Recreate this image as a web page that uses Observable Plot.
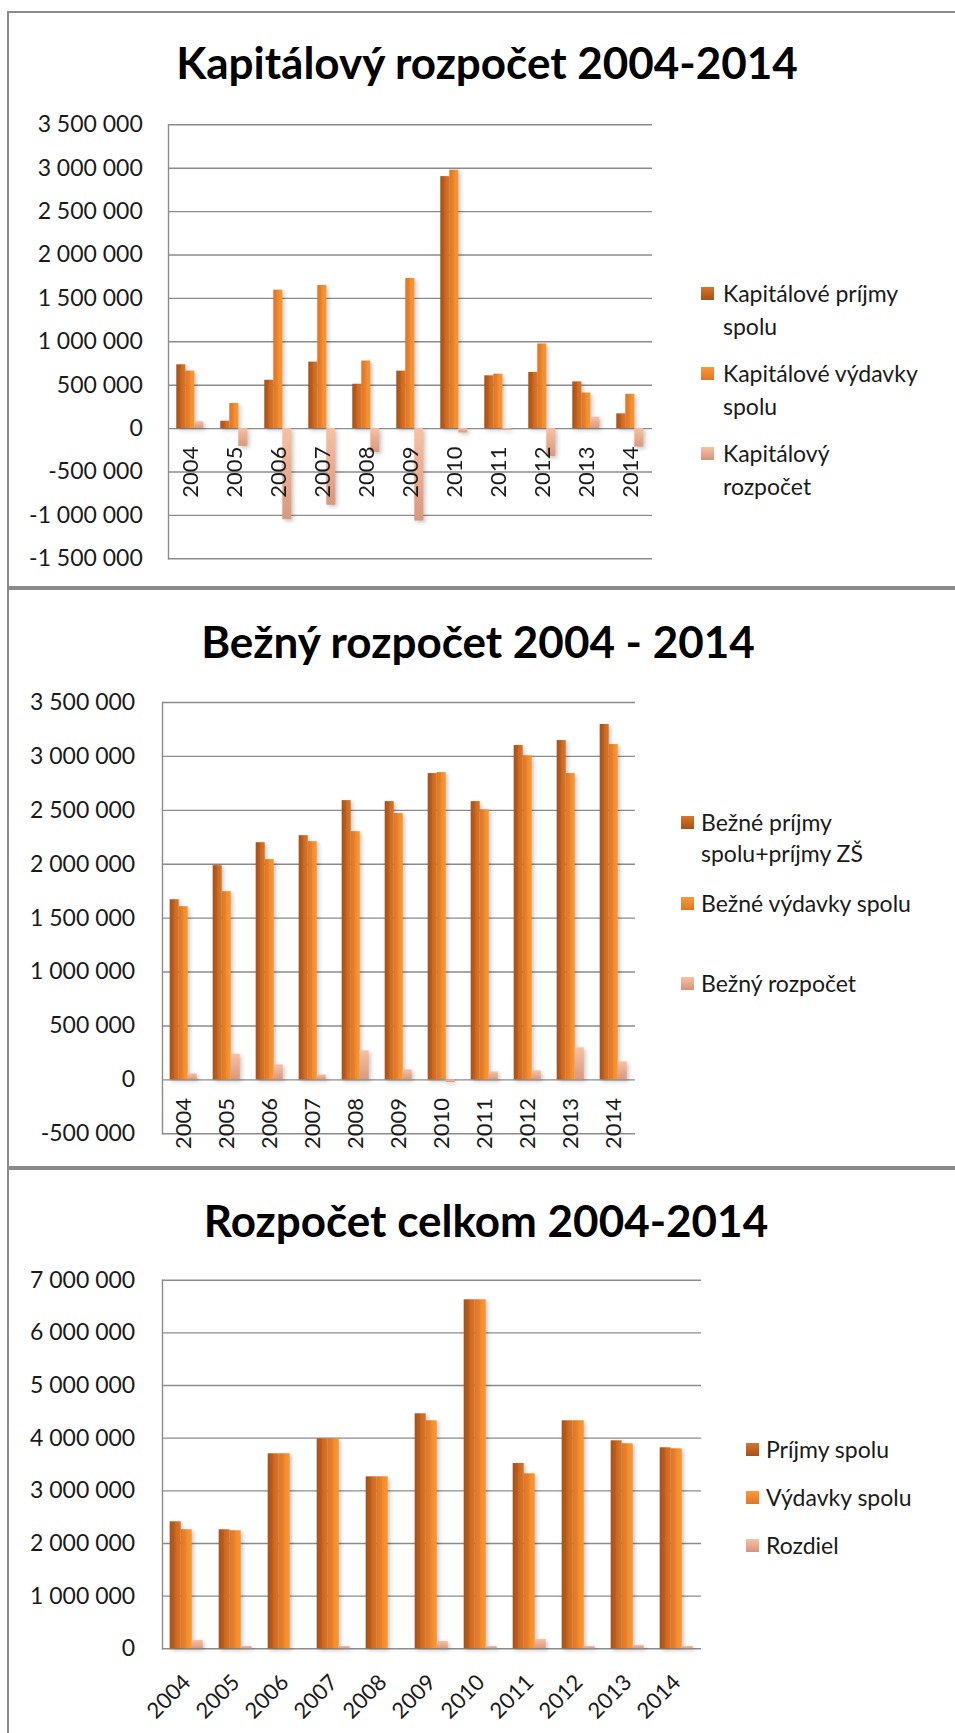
<!DOCTYPE html>
<html><head><meta charset="utf-8">
<script src="https://cdn.jsdelivr.net/npm/d3@7"></script>
<script src="https://cdn.jsdelivr.net/npm/@observablehq/plot@0.6"></script>
<style>
html,body{margin:0;padding:0;background:#fff;overflow:hidden;}
#page{position:relative;width:955px;height:1733px;overflow:hidden;font-family:Lato,"Open Sans",sans-serif;background:#fff;}
.panel{position:absolute;left:7px;width:1000px;border:2px solid #8a8a8a;box-sizing:border-box;pointer-events:none;z-index:5;}
.chart{position:absolute;left:0;z-index:1;}
.title{position:absolute;left:0;text-align:center;font-weight:700;font-size:44px;line-height:44px;color:#000;white-space:nowrap;z-index:2;}
.legend{position:absolute;font-size:23px;color:#1a1a1a;z-index:2;}
.item{position:relative;}
.sw{position:absolute;left:0;width:13px;height:13px;}
.lt{white-space:pre-line;}
</style></head><body>
<svg width="0" height="0" style="position:absolute">
<defs>
<linearGradient id="gDark" x1="0" y1="0" x2="1" y2="0">
<stop offset="0" stop-color="#A5521A"/><stop offset="0.45" stop-color="#BC5D1C"/><stop offset="0.55" stop-color="#CD6A20"/><stop offset="1" stop-color="#DA7424"/>
</linearGradient>
<linearGradient id="gMid" x1="0" y1="0" x2="1" y2="0">
<stop offset="0" stop-color="#DD7526"/><stop offset="0.45" stop-color="#EA8229"/><stop offset="0.55" stop-color="#F38D2C"/><stop offset="1" stop-color="#FA9631"/>
</linearGradient>
<linearGradient id="gLight" x1="0" y1="0" x2="0" y2="1">
<stop offset="0" stop-color="#F9C0A2"/><stop offset="1" stop-color="#D8997F"/>
</linearGradient>
</defs>
</svg>
<div id="page"></div>
<script>
// ---------- DATA ----------
const years = ["2004","2005","2006","2007","2008","2009","2010","2011","2012","2013","2014"];

// Chart 1: Kapitálový rozpočet
const kapTitle = "Kapitálový rozpočet 2004-2014";
const kapSeries = ["Kapitálové príjmy\nspolu", "Kapitálové výdavky\nspolu", "Kapitálový\nrozpočet"];
const kapPrijmy   = [735000, 85000, 557000, 766000, 511000, 662000, 2903000, 608000, 647000, 538000, 170000];
const kapVydavky  = [662000, 290000, 1595000, 1649000, 778000, 1730000, 2977000, 627000, 975000, 410000, 395000];
const kapRozpocet = [80000, -205000, -1049000, -883000, -275000, -1065000, -50000, -19000, -322000, 131000, -213000];
const kapTicks = [-1500000, -1000000, -500000, 0, 500000, 1000000, 1500000, 2000000, 2500000, 3000000, 3500000];

// Chart 2: Bežný rozpočet
const bezTitle = "Bežný rozpočet 2004 - 2014";
const bezSeries = ["Bežné príjmy\nspolu+príjmy ZŠ", "Bežné výdavky spolu", "Bežný rozpočet"];
const bezPrijmy   = [1671000, 1987000, 2200000, 2265000, 2590000, 2581000, 2841000, 2581000, 3101000, 3147000, 3296000];
const bezVydavky  = [1606000, 1745000, 2042000, 2209000, 2302000, 2470000, 2850000, 2504000, 3005000, 2841000, 3110000];
const bezRozpocet = [55000, 238000, 139000, 46000, 269000, 93000, -25000, 74000, 84000, 297000, 167000];
const bezTicks = [-500000, 0, 500000, 1000000, 1500000, 2000000, 2500000, 3000000, 3500000];

// Chart 3: Rozpočet celkom
const celTitle = "Rozpočet celkom 2004-2014";
const celSeries = ["Príjmy spolu", "Výdavky spolu", "Rozdiel"];
const celPrijmy  = [2412000, 2260000, 3703000, 3988000, 3266000, 4463000, 6628000, 3519000, 4330000, 3950000, 3817000];
const celVydavky = [2260000, 2241000, 3703000, 3988000, 3266000, 4330000, 6628000, 3323000, 4330000, 3893000, 3798000];
const celRozdiel = [158000, 44000, 3000, 44000, 3000, 139000, 44000, 177000, 44000, 63000, 44000];
const celTicks = [0, 1000000, 2000000, 3000000, 4000000, 5000000, 6000000, 7000000];

// ---------- RENDER ----------
const page = document.getElementById("page");
const locale = d3.formatLocale({decimal: ",", thousands: " ", grouping: [3], currency: ["", ""], minus: "-"});
const fmt = locale.format(",d");
const fills = ["url(#gDark)", "url(#gMid)", "url(#gLight)"];
const swatchBg = [
  "linear-gradient(#D8752A,#A5521A)",
  "linear-gradient(#FA9A3A,#DF7524)",
  "linear-gradient(#F9C1A4,#D3937A)"
];

function table(series, values) {
  return years.flatMap((y, i) => series.map((s, j) => ({year: y, series: s, value: values[j][i]})));
}

function addPanel(top, height) {
  const d = document.createElement("div");
  d.className = "panel";
  d.style.top = top + "px";
  d.style.height = height + "px";
  page.appendChild(d);
}

function addTitle(text, baseline, center) {
  const d = document.createElement("div");
  d.className = "title";
  d.textContent = text;
  d.style.left = (center - 400) + "px";
  d.style.width = "800px";
  d.style.top = (baseline - 39.1) + "px";
  page.appendChild(d);
}

function addLegend(series, o) {
  const L = document.createElement("div");
  L.className = "legend";
  L.style.left = o.swX + "px";
  L.style.top = o.top + "px";
  series.forEach((s, j) => {
    const it = document.createElement("div");
    it.className = "item";
    it.style.height = o.itemH + "px";
    const sw = document.createElement("div");
    sw.className = "sw";
    sw.style.top = (o.lineH / 2 - 6.5) + "px";
    sw.style.background = swatchBg[j];
    const t = document.createElement("div");
    t.className = "lt";
    t.style.marginLeft = (o.textX - o.swX) + "px";
    t.style.lineHeight = o.lineH + "px";
    t.textContent = s;
    it.appendChild(sw);
    it.appendChild(t);
    L.appendChild(it);
  });
  page.appendChild(L);
}

function addChart(series, values, ticks, o) {
  const rows = table(series, values);
  const svg = Plot.plot({
    width: 955,
    height: o.height,
    marginTop: o.yTop - o.top,
    marginBottom: o.top + o.height - o.yBottom,
    marginLeft: o.left,
    marginRight: 955 - o.right,
    style: {background: "transparent", fontFamily: "Lato, 'Open Sans', sans-serif", fontSize: "23px", color: "#1a1a1a", overflow: "visible"},
    fx: {domain: years, padding: 0, axis: null},
    x: {domain: series, paddingInner: 0, paddingOuter: o.pad, axis: null},
    y: {domain: [ticks[0], ticks[ticks.length - 1]], ticks: ticks, tickFormat: fmt, tickSize: 0, tickPadding: o.tickPad, label: null},
    color: {domain: series, range: fills},
    marks: [
      Plot.ruleY(ticks, {stroke: "#8c8c8c", strokeWidth: 1.4}),
      Plot.frame({anchor: "left", facet: "super", stroke: "#8c8c8c", strokeWidth: 1.4}),
      Plot.barY(rows, {fx: "year", x: "series", y: "value", fill: "series"}),
      Plot.text(years, {fx: d => d, y: d => 0, text: d => d, rotate: o.rotate, textAnchor: "end", dx: o.labelDx, dy: o.labelDy, fontSize: 22, fill: "#1a1a1a"})
    ]
  });
  svg.querySelectorAll('g[aria-label="bar"]').forEach(g => {
    g.style.filter = "drop-shadow(2px 2px 2px rgba(0,0,0,0.22))";
  });
  svg.classList.add("chart");
  svg.style.position = "absolute";
  svg.style.top = o.top + "px";
  svg.style.left = "0px";
  page.appendChild(svg);
}

// panels
addPanel(11, 577);
addPanel(588, 580);
addPanel(1168, 600);

// chart 1
addTitle(kapTitle, 79, 487);
addChart(kapSeries, [kapPrijmy, kapVydavky, kapRozpocet], kapTicks,
  {top: 0, height: 588, yTop: 124.3, yBottom: 558.3, left: 165.7, right: 655, pad: 0.77, tickPad: 25.7, rotate: -90, labelDx: 0, labelDy: 18});
addLegend(kapSeries, {swX: 701, textX: 723, top: 276.5, itemH: 80, lineH: 33});

// chart 2
addTitle(bezTitle, 658, 478);
addChart(bezSeries, [bezPrijmy, bezVydavky, bezRozpocet], bezTicks,
  {top: 588, height: 580, yTop: 702, yBottom: 1133.3, left: 157.3, right: 640, pad: 0.75, tickPad: 27.3, rotate: -90, labelDx: 0, labelDy: 18});
addLegend(bezSeries, {swX: 681, textX: 701, top: 807.2, itemH: 80.5, lineH: 31});

// chart 3
addTitle(celTitle, 1237, 486);
addChart(celSeries, [celPrijmy, celVydavky, celRozdiel], celTicks,
  {top: 1168, height: 565, yTop: 1279.7, yBottom: 1648.3, left: 157.3, right: 705.7, pad: 0.655, tickPad: 27.3, rotate: -45, labelDx: 0, labelDy: 30});
addLegend(celSeries, {swX: 746, textX: 766, top: 1432.5, itemH: 48, lineH: 33});
</script>
</body></html>
